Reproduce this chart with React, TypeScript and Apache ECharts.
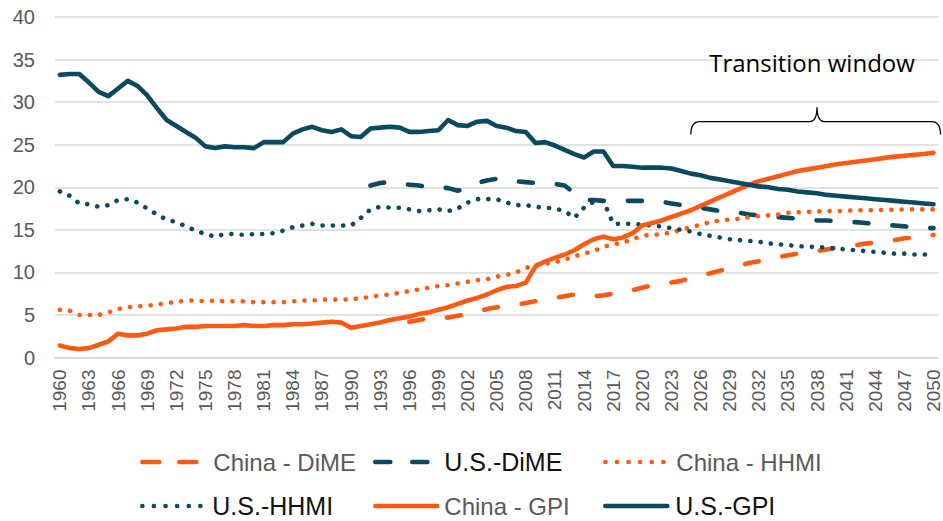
import React, { useEffect, useRef } from "react";
import * as echarts from "echarts";

const years: string[] = [];
for (let y = 1960; y <= 2050; y++) years.push(String(y));

const yTicks = [0, 5, 10, 15, 20, 25, 30, 35, 40];

// 1960-2050
const usGPI = [
  33.2, 33.3, 33.3, 32.3, 31.2, 30.7, 31.6, 32.5, 31.9, 30.8,
  29.3, 27.9, 27.2, 26.5, 25.8, 24.8, 24.6, 24.8, 24.7, 24.7,
  24.6, 25.3, 25.3, 25.3, 26.3, 26.8, 27.1, 26.7, 26.5, 26.8,
  26.0, 25.9, 26.9, 27.0, 27.1, 27.0, 26.5, 26.5, 26.6, 26.7,
  27.9, 27.3, 27.2, 27.7, 27.8, 27.2, 27.0, 26.6, 26.5, 25.2,
  25.3, 24.9, 24.4, 23.9, 23.5, 24.2, 24.2, 22.5, 22.5, 22.4,
  22.3, 22.3, 22.3, 22.2, 21.9, 21.6, 21.4, 21.1, 20.9, 20.7,
  20.5, 20.3, 20.1, 20.0, 19.8, 19.7, 19.5, 19.4, 19.3, 19.1,
  19.0, 18.9, 18.8, 18.7, 18.6, 18.5, 18.4, 18.3, 18.2, 18.1,
  18.0,
];

const chinaGPI = [
  1.4, 1.1, 1.0, 1.1, 1.5, 1.9, 2.8, 2.6, 2.6, 2.8,
  3.2, 3.3, 3.4, 3.6, 3.6, 3.7, 3.7, 3.7, 3.7, 3.8,
  3.7, 3.7, 3.8, 3.8, 3.9, 3.9, 4.0, 4.1, 4.2, 4.1,
  3.5, 3.7, 3.9, 4.1, 4.4, 4.6, 4.8, 5.1, 5.3, 5.6,
  5.9, 6.3, 6.7, 7.0, 7.4, 7.9, 8.3, 8.4, 8.8, 10.7,
  11.3, 11.7, 12.1, 12.6, 13.3, 13.9, 14.2, 13.9, 14.1, 14.6,
  15.5, 15.8, 16.1, 16.5, 16.9, 17.3, 17.8, 18.3, 18.8, 19.3,
  19.8, 20.3, 20.7, 21.0, 21.3, 21.6, 21.9, 22.1, 22.3, 22.5,
  22.7, 22.85, 23.0, 23.15, 23.3, 23.45, 23.6, 23.7, 23.8, 23.9,
  24.05,
];

const usHHMI = [
  19.5, 19.0, 18.1, 18.0, 17.7, 17.9, 18.5, 18.6, 18.2, 17.5,
  16.8, 16.2, 15.9, 15.4, 14.9, 14.5, 14.2, 14.5, 14.5, 14.4,
  14.5, 14.5, 14.6, 14.9, 15.3, 15.5, 15.7, 15.5, 15.5, 15.5,
  15.5, 16.4, 17.4, 17.7, 17.6, 17.6, 17.4, 17.2, 17.3, 17.4,
  17.2, 17.5, 18.2, 18.6, 18.6, 18.6, 18.2, 17.9, 17.9, 17.7,
  17.6, 17.5, 17.2, 16.4, 17.6, 18.3, 18.4, 15.7, 15.7, 15.7,
  15.6, 15.5, 15.4, 15.2, 15.0, 14.8, 14.5, 14.3, 14.1, 13.9,
  13.8, 13.7, 13.6, 13.4, 13.3, 13.2, 13.1, 13.0, 13.0, 12.9,
  12.8, 12.7, 12.6, 12.5, 12.4, 12.3, 12.2, 12.2, 12.1, 12.1,
  12.1,
];

const chinaHHMI = [
  5.6, 5.5, 5.0, 5.0, 5.0, 5.3, 5.7, 5.9, 6.0, 6.1,
  6.2, 6.4, 6.5, 6.7, 6.7, 6.6, 6.7, 6.6, 6.6, 6.6,
  6.5, 6.5, 6.5, 6.5, 6.6, 6.7, 6.7, 6.8, 6.8, 6.8,
  6.8, 7.0, 7.1, 7.3, 7.4, 7.6, 7.8, 8.0, 8.2, 8.4,
  8.5, 8.7, 8.9, 9.1, 9.2, 9.5, 9.7, 10.0, 10.5, 10.9,
  11.0, 11.2, 11.5, 11.9, 12.2, 12.5, 13.0, 13.3, 13.5, 13.9,
  14.3, 14.4, 14.5, 14.7, 15.0, 15.3, 15.6, 15.9, 16.1, 16.2,
  16.3, 16.5, 16.6, 16.7, 16.8, 17.0, 17.05, 17.1, 17.15, 17.2,
  17.2, 17.25, 17.3, 17.3, 17.3, 17.35, 17.35, 17.4, 17.4, 17.4,
  17.4,
];

// 1992-2050
const usDiMEStart = "1992";
const usDiME = [
  20.2, 20.5, 20.6, 20.4, 20.3, 20.2, 20.0, 20.0,
  19.9, 19.6, 19.9, 20.5, 20.8, 21.0, 21.0, 20.7, 20.6, 20.5,
  20.5, 20.4, 20.2, 19.3, 18.5, 18.5, 18.4, 18.4, 18.4, 18.4,
  18.4, 18.4, 18.3, 18.1, 17.9, 17.7, 17.6, 17.4, 17.2, 17.1,
  17.0, 16.8, 16.7, 16.6, 16.5, 16.4, 16.3, 16.2, 16.1, 16.1,
  16.0, 15.9, 15.9, 15.8, 15.7, 15.6, 15.5, 15.4, 15.3, 15.2,
  15.2,
];

// 1996-2050
const chinaDiMEStart = "1996";
const chinaDiME = [
  4.2, 4.4, 4.6, 4.6,
  4.7, 4.9, 5.1, 5.4, 5.7, 5.9, 6.0, 6.2, 6.4, 6.6,
  6.8, 7.0, 7.2, 7.4, 7.3, 7.2, 7.3, 7.5, 7.7, 7.9,
  8.2, 8.5, 8.7, 8.8, 9.0, 9.3, 9.6, 9.9, 10.2, 10.5,
  10.8, 11.1, 11.3, 11.5, 11.8, 12.0, 12.2, 12.3, 12.5, 12.7,
  12.9, 13.0, 13.2, 13.4, 13.5, 13.7, 13.8, 14.0, 14.1, 14.3,
  14.4,
];

const seriesNames = ["China - DiME", "U.S.-DiME", "China - HHMI", "U.S.-HHMI", "China - GPI", "U.S.-GPI"];

const ORANGE = "#FF5A14";
const NAVY = "#0B4A5E";
const DASH = [14, 24];
const DOT = [0.1, 10.2];

const pad = (start: string, vals: number[]) => {
  const idx = years.indexOf(start);
  const out: (number | null)[] = [];
  for (let i = 0; i < idx; i++) out.push(null);
  return out.concat(vals);
};

export default function App() {
  const ref = useRef<HTMLDivElement>(null);
  useEffect(() => {
    if (!ref.current) return;
    const chart = echarts.init(ref.current, null, { renderer: "svg" });
    const mk = (name: string, data: (number | null)[], color: string, type: any) => ({
      name,
      type: "line",
      data,
      symbol: "none",
      connectNulls: false,
      lineStyle: { color, width: 4.6, type, cap: "round", join: "round" },
      itemStyle: { color },
    });
    const legendDefs = [
      { name: seriesNames[0], left: 140, top: 448, color: "#595959", size: 24, dash: [17, 20], pl: 4 },
      { name: seriesNames[1], left: 373, top: 448, color: "#111111", size: 25, dash: [15, 22], pl: 2 },
      { name: seriesNames[2], left: 603, top: 448, color: "#595959", size: 24, dash: [0.1, 11.5], pl: 4 },
      { name: seriesNames[3], left: 140, top: 492, color: "#111111", size: 25, dash: [0.1, 11.5], pl: 3 },
      { name: seriesNames[4], left: 373, top: 492, color: "#595959", size: 24, dash: "solid", pl: 2 },
      { name: seriesNames[5], left: 603, top: 492, color: "#111111", size: 25, dash: "solid", pl: 3 },
    ];
    chart.setOption({
      animation: false,
      grid: { left: 55, right: 2, top: 17, bottom: 163.5, containLabel: false },
      xAxis: {
        type: "category",
        data: years,
        boundaryGap: true,
        axisLine: { show: true, lineStyle: { color: "#d9d9d9", width: 1.5 } },
        axisTick: { show: false },
        axisLabel: {
          interval: 2,
          rotate: 90,
          fontSize: 19,
          color: "#595959",
          fontFamily: "Liberation Sans",
          margin: 12,
        },
        splitLine: { show: false },
      },
      yAxis: {
        type: "value",
        min: yTicks[0],
        max: yTicks[yTicks.length - 1],
        interval: 5,
        axisLine: { show: false },
        axisTick: { show: false },
        axisLabel: { fontSize: 20, color: "#595959", fontFamily: "Liberation Sans", margin: 20 },
        splitLine: { lineStyle: { color: "#d9d9d9", width: 1.5 } },
      },
      legend: legendDefs.map((d) => ({
        data: [d.name],
        left: d.left,
        top: d.top,
        padding: 0,
        itemWidth: 62,
        itemHeight: 28,
        selectedMode: false,
        itemStyle: { opacity: 0 },
        lineStyle: { width: 4.6, type: d.dash, cap: "round" },
        textStyle: {
          fontSize: d.size,
          color: d.color,
          fontFamily: "Liberation Sans",
          lineHeight: 28,
          padding: [0, 0, 0, d.pl],
        },
      })),
      series: [
        mk(seriesNames[0], pad(chinaDiMEStart, chinaDiME), ORANGE, DASH),
        mk(seriesNames[1], pad(usDiMEStart, usDiME), NAVY, DASH),
        mk(seriesNames[2], chinaHHMI, ORANGE, DOT),
        mk(seriesNames[3], usHHMI, NAVY, DOT),
        mk(seriesNames[4], chinaGPI, ORANGE, "solid"),
        mk(seriesNames[5], usGPI, NAVY, "solid"),
      ],
    });

    // Transition window brace annotation
    const xl = chart.convertToPixel({ xAxisIndex: 0 }, "2025") as number;
    const xm = chart.convertToPixel({ xAxisIndex: 0 }, "2038") as number;
    const xr = (chart.convertToPixel({ xAxisIndex: 0 }, "2050") as number) + 7;
    const yLine = chart.convertToPixel({ yAxisIndex: 0 }, 27.7) as number;
    const yTip = chart.convertToPixel({ yAxisIndex: 0 }, 26.2) as number;
    const yPeak = chart.convertToPixel({ yAxisIndex: 0 }, 29.4) as number;
    const yText = chart.convertToPixel({ yAxisIndex: 0 }, 34.6) as number;
    const d =
      `M${xl},${yTip} Q${xl},${yLine} ${xl + 9},${yLine} L${xm - 8},${yLine} ` +
      `Q${xm},${yLine} ${xm},${yPeak} Q${xm},${yLine} ${xm + 8},${yLine} ` +
      `L${xr - 9},${yLine} Q${xr},${yLine} ${xr},${yTip}`;
    echarts.graphic.registerShape("brace", echarts.graphic.extendPath(d, {}));
    chart.setOption({
      graphic: [
        {
          type: "brace",
          x: 0,
          y: 0,
          style: { stroke: "#000", fill: "none", lineWidth: 1.3 },
          silent: true,
        },
        {
          type: "text",
          x: xm - 5,
          y: yText,
          style: {
            text: "Transition window",
            fontSize: 24,
            fontFamily: "Open Sans",
            fill: "#000",
            textAlign: "center",
            textVerticalAlign: "middle",
          },
          silent: true,
        },
      ],
    });
    return () => chart.dispose();
  }, []);
  return (
    <div
      ref={ref}
      style={{ position: "fixed", left: 0, top: 0, width: 943, height: 521, background: "#fff" }}
    />
  );
}
